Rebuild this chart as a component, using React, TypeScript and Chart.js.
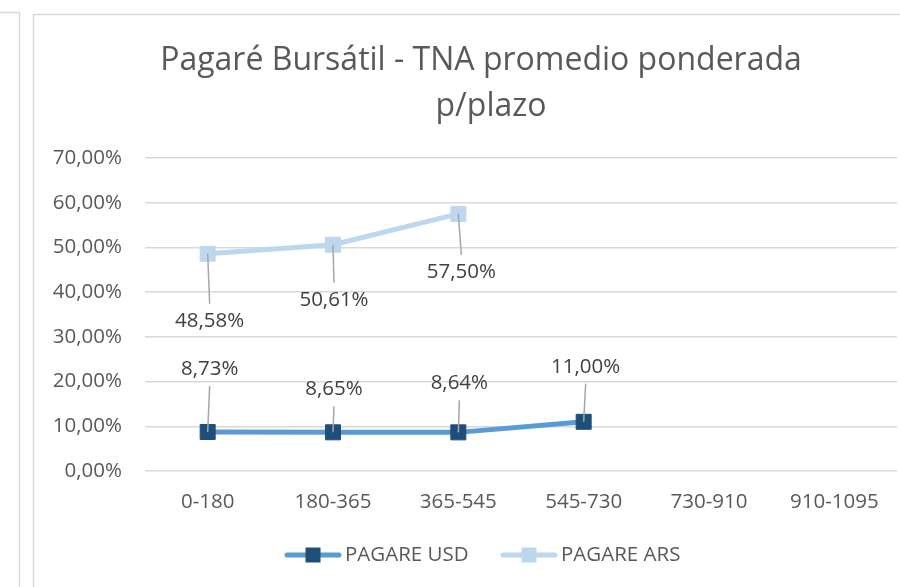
import React, { useEffect, useRef } from "react";
import { Chart, registerables } from "chart.js";

Chart.register(...registerables);

const categories = ["0-180", "180-365", "365-545", "545-730", "730-910", "910-1095"];
const usdValues = [8.73, 8.65, 8.64, 11.0, null, null];
const arsValues = [48.58, 50.61, 57.5, null, null, null];
const seriesNames = ["PAGARE USD", "PAGARE ARS"];
const titleLines = ["Pagaré Bursátil - TNA promedio ponderada", "p/plazo"];
const yTicks = [0, 10, 20, 30, 40, 50, 60, 70];

const FONT = "'Open Sans', 'DejaVu Sans', sans-serif";
const FS = 20.5;
const fmt = (v: number) => v.toFixed(2).replace(".", ",") + "%";

// label offsets (pixels) for data labels with leader lines
const labelOffsets = [
  [[2, -63], [1, -43], [1, -49], [2, -55]],
  [[2, 67], [1, 55], [3, 58]],
];

const decorPlugin = {
  id: "decor",
  beforeDraw(chart: any) {
    const ctx = chart.ctx;
    ctx.save();
    ctx.fillStyle = "#ffffff";
    ctx.fillRect(0, 0, chart.width, chart.height);
    ctx.strokeStyle = "#D9D9D9";
    ctx.lineWidth = 1.5;
    ctx.beginPath();
    ctx.moveTo(0, 12.5);
    ctx.lineTo(19.5, 12.5);
    ctx.lineTo(19.5, chart.height);
    ctx.moveTo(33.5, chart.height);
    ctx.lineTo(33.5, 14.5);
    ctx.lineTo(chart.width, 14.5);
    ctx.stroke();
    ctx.restore();
  },
  afterDatasetsDraw(chart: any) {
    const ctx = chart.ctx;
    ctx.save();
    ctx.font = `${FS}px ${FONT}`;
    ctx.textAlign = "center";
    ctx.textBaseline = "middle";
    chart.data.datasets.forEach((ds: any, di: number) => {
      const meta = chart.getDatasetMeta(di);
      meta.data.forEach((pt: any, i: number) => {
        const v = ds.data[i];
        if (v === null || v === undefined) return;
        const off = labelOffsets[di][i];
        const lx = pt.x + off[0];
        const ly = pt.y + off[1];
        const dir = off[1] < 0 ? 1 : -1;
        ctx.strokeStyle = "#A6A6A6";
        ctx.lineWidth = 1.5;
        ctx.beginPath();
        ctx.moveTo(lx, ly + dir * 17);
        ctx.lineTo(pt.x, pt.y);
        ctx.stroke();
        ctx.fillStyle = "#404040";
        ctx.fillText(fmt(v), lx, ly);
      });
    });
    ctx.restore();
  },
  afterDraw(chart: any) {
    const ctx = chart.ctx;
    ctx.save();
    // title
    ctx.fillStyle = "#595959";
    ctx.font = `32px ${FONT}`;
    ctx.textAlign = "center";
    ctx.textBaseline = "alphabetic";
    ctx.fillText(titleLines[0], 481, 70);
    ctx.fillText(titleLines[1], 491, 116);
    // legend
    const items = [
      { x: 285, ds: chart.data.datasets[0] },
      { x: 501, ds: chart.data.datasets[1] },
    ];
    const y = 555;
    items.forEach((it) => {
      ctx.strokeStyle = it.ds.borderColor;
      ctx.lineWidth = 5;
      ctx.lineCap = "round";
      ctx.beginPath();
      ctx.moveTo(it.x + 2, y);
      ctx.lineTo(it.x + 54, y);
      ctx.stroke();
      ctx.fillStyle = it.ds.pointBackgroundColor;
      ctx.fillRect(it.x + 20.5, y - 7.5, 15, 15);
      ctx.fillStyle = "#595959";
      ctx.font = `${FS}px ${FONT}`;
      ctx.textAlign = "left";
      ctx.textBaseline = "middle";
      ctx.fillText(it.ds.label, it.x + 60, y);
    });
    ctx.restore();
  },
};

export default function App() {
  const ref = useRef<HTMLCanvasElement>(null);
  useEffect(() => {
    if (!ref.current) return;
    const chart = new Chart(ref.current, {
      type: "line",
      data: {
        labels: categories,
        datasets: [
          {
            label: seriesNames[0],
            data: usdValues,
            borderColor: "#5B9BD5",
            backgroundColor: "#1F4E79",
            borderWidth: 5,
            pointStyle: "rect",
            pointRadius: 10.6,
            pointBackgroundColor: "#1F4E79",
            pointBorderColor: "#1F4E79",
            pointBorderWidth: 1,
            spanGaps: false,
            tension: 0,
          },
          {
            label: seriesNames[1],
            data: arsValues,
            borderColor: "#BDD7EE",
            backgroundColor: "#BDD7EE",
            borderWidth: 5,
            pointStyle: "rect",
            pointRadius: 10.6,
            pointBackgroundColor: "#BDD7EE",
            pointBorderColor: "#BDD7EE",
            pointBorderWidth: 1,
            spanGaps: false,
            tension: 0,
          },
        ],
      },
      options: {
        responsive: false,
        animation: false,
        layout: { autoPadding: false, padding: { top: 158, left: 33, right: 3, bottom: 0 } },
        plugins: {
          legend: { display: false },
          title: { display: false },
          tooltip: { enabled: false },
        },
        scales: {
          x: {
            offset: true,
            grid: { display: false, drawTicks: false },
            border: { display: false },
            ticks: { color: "#595959", font: { family: FONT, size: FS }, padding: 19, maxRotation: 0 },
            afterFit: (s: any) => {
              s.height = 116;
              s.paddingLeft = 0;
              s.paddingRight = 0;
            },
          },
          y: {
            min: 0,
            max: 70,
            afterBuildTicks: (s: any) => { s.ticks = yTicks.map((v) => ({ value: v })); },
            grid: { color: "#D9D9D9", lineWidth: 1.5, drawTicks: false },
            border: { display: false },
            ticks: {
              color: "#595959",
              font: { family: FONT, size: FS },
              padding: 23,
              callback: (v: any) => fmt(Number(v)),
            },
            afterFit: (s: any) => {
              s.width = 112;
              s.paddingTop = 0;
              s.paddingBottom = 0;
            },
          },
        },
      },
      plugins: [decorPlugin],
    } as any);
    return () => chart.destroy();
  }, []);
  return (
    <div style={{ position: "fixed", left: 0, top: 0, width: 900, height: 587, background: "#fff" }}>
      <canvas ref={ref} width={900} height={587} style={{ display: "block" }} />
    </div>
  );
}
